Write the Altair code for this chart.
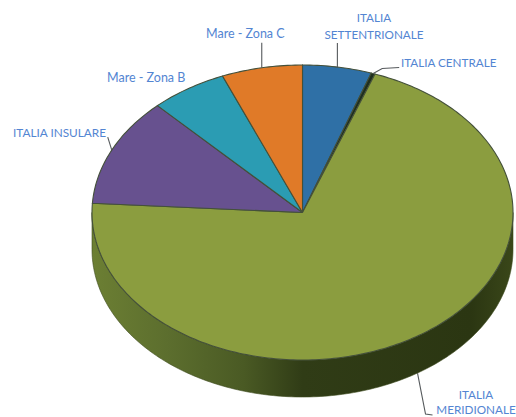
import math
import altair as alt
import pandas as pd

# Share of each area, clockwise from twelve o'clock (percent)
categories = ["ITALIA SETTENTRIONALE", "ITALIA CENTRALE", "ITALIA MERIDIONALE",
              "ITALIA INSULARE", "Mare - Zona B", "Mare - Zona C"]
values = [5.3, 0.3, 70.4, 11.9, 5.9, 6.2]
colors = ["#2f70a6", "#1f2f1f", "#8b9d3f", "#67518f", "#2b9cb3", "#e07a28"]

W, H = 516, 417
CX, CY, RX, RY, DEPTH = 302.5, 212.5, 210.5, 147.5, 37
TEXT = "#5385d2"
FONT = "Lato"
EDGE = "#44503a"


def rim(deg, drop=0.0):
    t = math.radians(deg)
    return CX + RX * math.sin(t), CY - RY * math.cos(t) + drop


def span(a, b, drop=0.0):
    n = max(2, int(abs(b - a)) + 1)
    return [rim(a + (b - a) * i / (n - 1), drop) for i in range(n)]


def path_frame(points):
    return pd.DataFrame({"px": [p[0] for p in points],
                         "py": [p[1] for p in points],
                         "k": range(len(points))})


x_scale = alt.Scale(domain=[0, W], range=[0, W], nice=False, zero=False)
y_scale = alt.Scale(domain=[0, H], range=[0, H], nice=False, zero=False)
X = alt.X("px:Q", scale=x_scale, axis=None)
Y = alt.Y("py:Q", scale=y_scale, axis=None)
K = alt.Order("k:Q")

total = sum(values)
starts, a = [], 0.0
for v in values:
    starts.append(a)
    a += v / total * 360
ends = starts[1:] + [360.0]
mids = [(s + e) / 2 for s, e in zip(starts, ends)]

layers = []

# Lower wall of the disc, shaded from left to right
side_pts = span(90, 270) + span(270, 90, DEPTH)
side_pts.append(side_pts[0])
side_fill = alt.LinearGradient(
    gradient="linear", x1=0, x2=1, y1=0, y2=0,
    stops=[alt.GradientStop(offset=0.0, color="#6c7f33"),
           alt.GradientStop(offset=0.18, color="#5c6e2e"),
           alt.GradientStop(offset=0.36, color="#4a5a24"),
           alt.GradientStop(offset=0.5, color="#303c16"),
           alt.GradientStop(offset=0.9, color="#2b3612"),
           alt.GradientStop(offset=1.0, color="#3a4719")])
layers.append(alt.Chart(path_frame(side_pts)).mark_line(
    filled=True, fill=side_fill, stroke="#3c4a1c", strokeWidth=0.6
).encode(x=X, y=Y, order=K))

# Top face: one closed path per slice
for s, e, col in zip(starts, ends, colors):
    pts = [(CX, CY)] + span(s, e) + [(CX, CY)]
    layers.append(alt.Chart(path_frame(pts)).mark_line(
        filled=True, fill=col, stroke=EDGE, strokeWidth=1.1
    ).encode(x=X, y=Y, order=K))

# Leader lines start on the rim at each slice's middle angle
leader_bends = {
    "ITALIA SETTENTRIONALE": [(0, -24)],
    "ITALIA CENTRALE": [(9, -5), (26, -6)],
    "ITALIA MERIDIONALE": [(8, 41), (15, 42)],
    "ITALIA INSULARE": [(-4, -13)],
    "Mare - Zona C": [(0, -25)],
}
for cat, mid in zip(categories, mids):
    if cat not in leader_bends:
        continue
    drop = DEPTH if 90 < mid < 270 else 0
    x0, y0 = rim(mid, drop)
    pts = [(x0, y0)] + [(x0 + dx, y0 + dy) for dx, dy in leader_bends[cat]]
    layers.append(alt.Chart(path_frame(pts)).mark_line(
        color="#55595c", strokeWidth=1.1
    ).encode(x=X, y=Y, order=K))

# Slice labels
label_rows = [
    ("ITALIA", 374, 18, "center", 11.7),
    ("SETTENTRIONALE", 374, 35, "center", 11.7),
    ("ITALIA CENTRALE", 401, 63, "left", 11.7),
    ("Mare - Zona C", 206, 34, "left", 12.5),
    ("Mare - Zona B", 107, 78, "left", 12.5),
    ("ITALIA INSULARE", 13, 133, "left", 11.8),
    ("ITALIA", 476, 395, "center", 11.7),
    ("MERIDIONALE", 476, 410, "center", 11.7),
]
for text, px, py, align, size in label_rows:
    frame = pd.DataFrame({"px": [px], "py": [py], "t": [text]})
    layers.append(alt.Chart(frame).mark_text(
        font=FONT, fontSize=size, color=TEXT, align=align, baseline="middle"
    ).encode(x=X, y=Y, text="t:N"))

chart = alt.layer(*layers).properties(
    width=W, height=H, padding=0,
    autosize=alt.AutoSizeParams(type="none"),
    background="white",
).configure_view(stroke=None)

chart.save("out.html", embed_options={"renderer": "svg", "actions": False})
